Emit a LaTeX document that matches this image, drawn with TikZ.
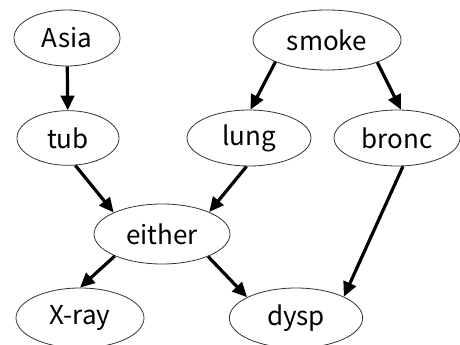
\documentclass[tikz,border=0pt]{standalone}
\usepackage{fontspec}
\setmainfont{Noto Sans CJK JP}
\usetikzlibrary{shapes.geometric,arrows.meta}
\begin{document}
\begin{tikzpicture}[x=0.75pt,y=-0.75pt,
  bnode/.style={ellipse,draw=black!80,line width=0.6pt,inner sep=0pt,
    font=\fontsize{19.5}{23}\selectfont},
  edge/.style={line width=2.4pt,-{Triangle[length=11pt,width=10pt]}}]
\useasboundingbox (0,0) rectangle (460,345);
\node[bnode,minimum width=79.5pt,minimum height=42pt] (asia) at (67,38) {Asia};
\node[bnode,minimum width=111pt,minimum height=45pt] (smoke) at (327,40) {smoke};
\node[bnode,minimum width=76.5pt,minimum height=41pt] (tub) at (68,138) {tub};
\node[bnode,minimum width=93pt,minimum height=42pt] (lung) at (249,138) {lung};
\node[bnode,minimum width=94.5pt,minimum height=42pt] (bronc) at (397,138) {bronc};
\node[bnode,minimum width=102pt,minimum height=45pt] (either) at (162,234) {either};
\node[bnode,minimum width=96pt,minimum height=45pt] (xray) at (80,318) {X-ray};
\node[bnode,minimum width=100pt,minimum height=45pt] (dysp) at (296,318) {dysp};
\draw[edge] (asia) -- (tub);
\draw[edge] (smoke.203) -- (lung.87);
\draw[edge] (smoke.336) -- (bronc.82);
\draw[edge] (tub.285) -- (either.156);
\draw[edge] (lung.265) -- (either.25);
\draw[edge] (either.205) -- (xray.90);
\draw[edge] (either.334) -- (dysp.157);
\draw[edge] (bronc.282) -- (dysp.24);
\end{tikzpicture}
\end{document}
